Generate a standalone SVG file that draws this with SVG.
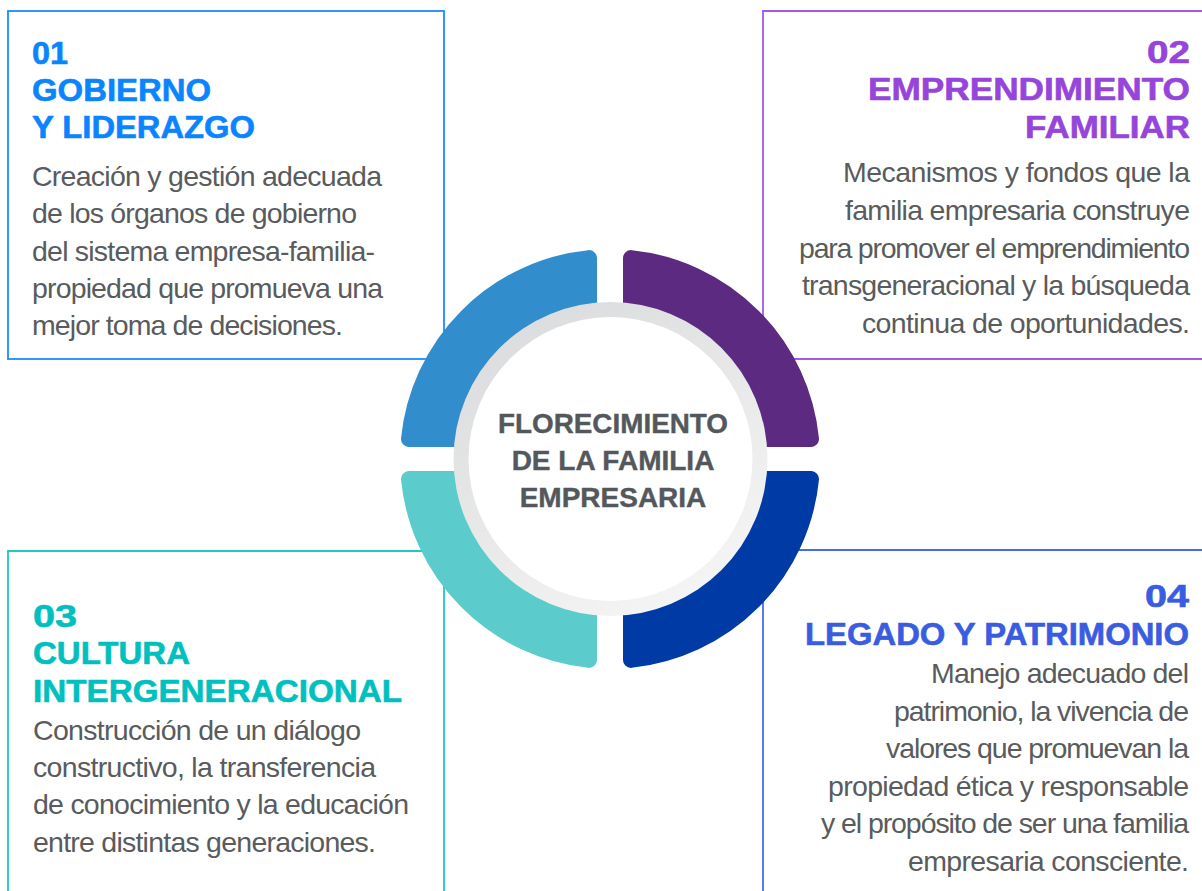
<svg xmlns="http://www.w3.org/2000/svg" width="1202" height="891" viewBox="0 0 1202 891">
<defs>
<linearGradient id="ringGrad" x1="0.2" y1="0" x2="0.8" y2="1">
<stop offset="0" stop-color="#dadbdc"/>
<stop offset="1" stop-color="#f6f6f6"/>
</linearGradient>
</defs>
<style>
.box{fill:none;stroke-width:1.8}
.h{font-family:"Liberation Sans",Arial,sans-serif;font-weight:bold;font-size:31px;stroke-width:0.6;stroke-linejoin:round}
.b{font-family:"Liberation Sans",Arial,sans-serif;font-size:28.5px;fill:#595b5d}
.c{font-family:"Liberation Sans",Arial,sans-serif;font-weight:bold;font-size:28px;fill:#54585c;stroke:#54585c;stroke-width:0.4;text-anchor:middle}
.seg{stroke-width:16;stroke-linejoin:round}
</style>
<rect width="1202" height="891" fill="#ffffff"/>

<g id="node-01">
<rect class="box" x="8" y="11" width="436" height="348" stroke="#1a8cff"/>
<g class="h" fill="#0a84ff" stroke="#0a84ff">
<text x="32" y="63.5" textLength="36" lengthAdjust="spacingAndGlyphs">01</text>
<text x="32" y="100.5" textLength="179" lengthAdjust="spacingAndGlyphs">GOBIERNO</text>
<text x="32" y="137.5" textLength="223" lengthAdjust="spacingAndGlyphs">Y LIDERAZGO</text>
</g>
<g class="b">
<text x="32" y="185.7" textLength="350" lengthAdjust="spacing">Creación y gestión adecuada</text>
<text x="32" y="222.7" textLength="325" lengthAdjust="spacing">de los órganos de gobierno</text>
<text x="32" y="260.7" textLength="343" lengthAdjust="spacing">del sistema empresa-familia-</text>
<text x="32" y="297.7" textLength="351" lengthAdjust="spacing">propiedad que promueva una</text>
<text x="32" y="335" textLength="311" lengthAdjust="spacing">mejor toma de decisiones.</text>
</g>
</g>

<g id="node-02">
<path class="box" d="M1202,11 H763 V359 H1202" stroke="#a259e8"/>
<g class="h" fill="#9545d9" stroke="#9545d9">
<text x="1147" y="63.3" textLength="43" lengthAdjust="spacingAndGlyphs">02</text>
<text x="868" y="100" textLength="322" lengthAdjust="spacingAndGlyphs">EMPRENDIMIENTO</text>
<text x="1025" y="137.7" textLength="165" lengthAdjust="spacingAndGlyphs">FAMILIAR</text>
</g>
<g class="b">
<text x="843" y="182.3" textLength="347" lengthAdjust="spacing">Mecanismos y fondos que la</text>
<text x="845" y="220" textLength="345" lengthAdjust="spacing">familia empresaria construye</text>
<text x="799" y="257.7" textLength="391" lengthAdjust="spacing">para promover el emprendimiento</text>
<text x="802" y="295" textLength="388" lengthAdjust="spacing">transgeneracional y la búsqueda</text>
<text x="862" y="332.7" textLength="328" lengthAdjust="spacing">continua de oportunidades.</text>
</g>
</g>

<g id="node-03">
<path class="box" d="M8,891 V551 H444 V891" stroke="#1ec8c8"/>
<g class="h" fill="#00bfbf" stroke="#00bfbf">
<text x="33" y="626.7" textLength="44" lengthAdjust="spacingAndGlyphs">03</text>
<text x="33" y="664" textLength="157" lengthAdjust="spacingAndGlyphs">CULTURA</text>
<text x="33" y="701.7" textLength="369" lengthAdjust="spacingAndGlyphs">INTERGENERACIONAL</text>
</g>
<g class="b">
<text x="33" y="740" textLength="328" lengthAdjust="spacing">Construcción de un diálogo</text>
<text x="33" y="777.3" textLength="343" lengthAdjust="spacing">constructivo, la transferencia</text>
<text x="33" y="814" textLength="376" lengthAdjust="spacing">de conocimiento y la educación</text>
<text x="33" y="852.3" textLength="343" lengthAdjust="spacing">entre distintas generaciones.</text>
</g>
</g>

<g id="node-04">
<path class="box" d="M763,891 V550 H1202" stroke="#4a6ae8"/>
<g class="h" fill="#3a5ce0" stroke="#3a5ce0">
<text x="1145" y="606.7" textLength="44" lengthAdjust="spacingAndGlyphs">04</text>
<text x="805" y="645" textLength="384" lengthAdjust="spacingAndGlyphs">LEGADO Y PATRIMONIO</text>
</g>
<g class="b">
<text x="931" y="683.3" textLength="258" lengthAdjust="spacing">Manejo adecuado del</text>
<text x="894" y="720.7" textLength="295" lengthAdjust="spacing">patrimonio, la vivencia de</text>
<text x="886" y="758.3" textLength="303" lengthAdjust="spacing">valores que promuevan la</text>
<text x="828" y="796" textLength="361" lengthAdjust="spacing">propiedad ética y responsable</text>
<text x="821" y="833.3" textLength="368" lengthAdjust="spacing">y el propósito de ser una familia</text>
<text x="908" y="871" textLength="281" lengthAdjust="spacing">empresaria consciente.</text>
</g>
</g>

<g id="ring">
<path class="seg" d="M589,439 L589,258.1 A202,202 0 0 0 409,439 Z" fill="#318dcb" stroke="#318dcb"/>
<path class="seg" d="M631,439 L631,258.1 A202,202 0 0 1 811,439 Z" fill="#5c2a80" stroke="#5c2a80"/>
<path class="seg" d="M589,479 L589,659.9 A202,202 0 0 1 409,479 Z" fill="#5bcbcb" stroke="#5bcbcb"/>
<path class="seg" d="M631,479 L631,659.9 A202,202 0 0 0 811,479 Z" fill="#003aa5" stroke="#003aa5"/>
</g>

<g id="center">
<circle cx="610.5" cy="459" r="157" fill="url(#ringGrad)"/>
<circle cx="610.5" cy="459" r="142" fill="#ffffff"/>
<text class="c" x="613" y="433" textLength="230" lengthAdjust="spacingAndGlyphs">FLORECIMIENTO</text>
<text class="c" x="613" y="470">DE LA FAMILIA</text>
<text class="c" x="613" y="507">EMPRESARIA</text>
</g>
</svg>
